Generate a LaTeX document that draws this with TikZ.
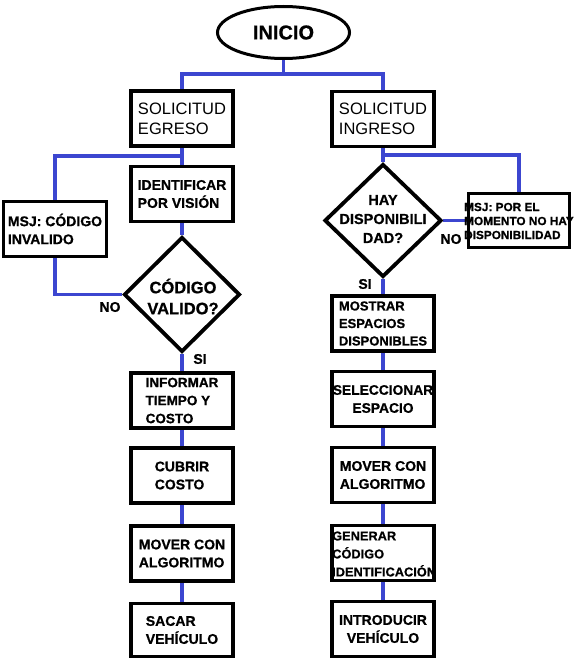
\documentclass[tikz,border=0pt]{standalone}
\usepackage{fontspec}
\setmainfont{Liberation Sans}[BoldFeatures={FakeBold=0.8}]
\usetikzlibrary{shapes.geometric}
\pgfdeclarelayer{bg}
\pgfdeclarelayer{back}
\pgfsetlayers{back,bg,main}
\definecolor{cblue}{RGB}{60,70,208}
\begin{document}
\begin{tikzpicture}[x=1pt,y=-1pt,
 box/.style={draw, line width=3.3pt, rectangle, inner sep=0pt, minimum width=102pt, minimum height=55pt, font=\bfseries\fontsize{14}{18}\selectfont, align=left},
 dia/.style={draw, diamond, line width=3.8pt, inner sep=0pt},
 dtext/.style={font=\bfseries\fontsize{16.5}{21}\selectfont, align=center, inner sep=0pt},
 conn/.style={draw=cblue, line width=3.4pt},
 lbl/.style={font=\bfseries\fontsize{14}{16}\selectfont, inner sep=0pt}
]
\begin{pgfonlayer}{back}
\fill[white] (0,0) rectangle (573,661);
\end{pgfonlayer}
\useasboundingbox (0,0) rectangle (573,661);

\node[draw, ellipse, line width=3pt, minimum width=132pt, minimum height=52pt, inner sep=0pt, font=\bfseries\fontsize{20}{24}\selectfont] (inicio) at (283.5,32.5) {INICIO};

\node[box, font=\fontsize{16.5}{20}\selectfont] (egreso) at (182,118.5) {SOLICITUD\\EGRESO};
\node[box, font=\fontsize{16.5}{20}\selectfont] (ingreso) at (383,119) {SOLICITUD\\INGRESO};

% left column
\node[box] (ident) at (182,194) {IDENTIFICAR\\POR VISIÓN};
\node[box, minimum width=103pt] (msjl) at (55,229) {MSJ: CÓDIGO\\INVALIDO};
\node[dia, minimum width=116pt, minimum height=115pt] (dl) at (182,294.5) {};
\node[dtext] (dlt) at (183,296.5) {CÓDIGO\\VALIDO?};
\node[box, font=\bfseries\fontsize{13.5}{18}\selectfont] (informar) at (182,400.5) {INFORMAR\\TIEMPO Y\\COSTO};
\node[box] (cubrir) at (182,475.5) {CUBRIR\\COSTO};
\node[box] (moverl) at (182,553.5) {MOVER CON\\ALGORITMO};
\node[box, minimum height=53pt] (sacar) at (182,630) {SACAR\\VEHÍCULO};

% right column
\node[dia, minimum width=117pt, minimum height=113pt] (dr) at (383,220.5) {};
\node[dtext, font=\bfseries\fontsize{14.5}{19}\selectfont] (drt) at (383,219) {HAY\\DISPONIBILI\\DAD?};
\node[font=\bfseries\fontsize{11.8}{14}\selectfont, align=left, anchor=west, inner sep=0pt] (msjrt) at (464,221) {MSJ: POR EL\\MOMENTO NO HAY\\DISPONIBILIDAD};
\node[box, minimum width=101pt, minimum height=54pt] (msjr) at (519,220.5) {};
\node[box, font=\bfseries\fontsize{13}{17.5}\selectfont] (mostrar) at (383,323.5) {MOSTRAR\\ESPACIOS\\DISPONIBLES};
\node[box, align=center, font=\bfseries\fontsize{13.8}{18}\selectfont] (selec) at (383,399) {SELECCIONAR\\ESPACIO};
\node[box] (moverr) at (383,475) {MOVER CON\\ALGORITMO};
\node[box] (generar) at (383,553) {};
\node[font=\bfseries\fontsize{12.8}{18}\selectfont, align=left, anchor=west, inner sep=0pt] (generart) at (332,554) {GENERAR\\CÓDIGO\\IDENTIFICACIÓN};
\node[box, align=center] (intro) at (383,629) {INTRODUCIR\\VEHÍCULO};

% labels
\node[lbl] (nol) at (110,307) {NO};
\node[lbl] (sil) at (200,359) {SI};
\node[lbl] (sir) at (365,284) {SI};
\node[lbl] (nor) at (451,239) {NO};

\begin{pgfonlayer}{bg}
\coordinate (j1) at (283.5,74);
\coordinate (j2) at (182,156);
\coordinate (j3) at (383,155);
\draw[conn] (inicio.south) -- (j1);
\draw[conn] (egreso.north) |- (j1) -| (ingreso.north);
\draw[conn] (egreso.south) -- (ident.north);
\draw[conn] (j2) -| (msjl.north);
\draw[conn] (ident.south) -- (dl.north);
\draw[conn] (dl.west) -| (msjl.south);
\draw[conn] (dl.south) -- (informar.north);
\draw[conn] (informar.south) -- (cubrir.north);
\draw[conn] (cubrir.south) -- (moverl.north);
\draw[conn] (moverl.south) -- (sacar.north);
\draw[conn] (ingreso.south) -- (dr.north);
\draw[conn] (j3) -| (msjr.north);
\draw[conn] (dr.east) -- (msjr.west);
\draw[conn] (dr.south) -- (mostrar.north);
\draw[conn] (mostrar.south) -- (selec.north);
\draw[conn] (selec.south) -- (moverr.north);
\draw[conn] (moverr.south) -- (generar.north);
\draw[conn] (generar.south) -- (intro.north);
\end{pgfonlayer}
\end{tikzpicture}
\end{document}
